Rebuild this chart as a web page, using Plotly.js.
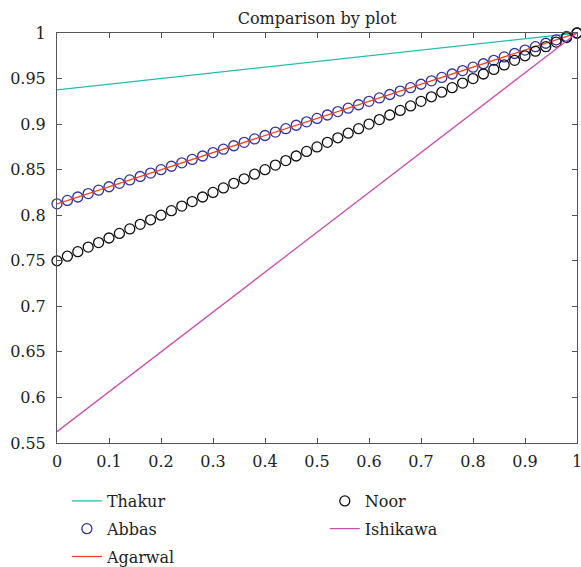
<!DOCTYPE html>
<html>
<head>
<meta charset="utf-8">
<script src="https://cdn.plot.ly/plotly-3.0.1.min.js"></script>
<style>html,body{margin:0;padding:0;background:#fff;}#chart{width:581px;height:567px;}</style>
</head>
<body>
<div id="chart"></div>
<script>
// Data
const lineX = [0, 1];
const thakurY = [0.9375, 1];
const agarwalY = [0.8125, 1];
const ishikawaY = [0.5625, 1];

const markerX = [0, 0.02, 0.04, 0.06, 0.08, 0.1, 0.12, 0.14, 0.16, 0.18,
  0.2, 0.22, 0.24, 0.26, 0.28, 0.3, 0.32, 0.34, 0.36, 0.38,
  0.4, 0.42, 0.44, 0.46, 0.48, 0.5, 0.52, 0.54, 0.56, 0.58,
  0.6, 0.62, 0.64, 0.66, 0.68, 0.7, 0.72, 0.74, 0.76, 0.78,
  0.8, 0.82, 0.84, 0.86, 0.88, 0.9, 0.92, 0.94, 0.96, 0.98, 1];
const abbasY = [0.8125, 0.81625, 0.82, 0.82375, 0.8275, 0.83125, 0.835, 0.83875, 0.8425, 0.84625,
  0.85, 0.85375, 0.8575, 0.86125, 0.865, 0.86875, 0.8725, 0.87625, 0.88, 0.88375,
  0.8875, 0.89125, 0.895, 0.89875, 0.9025, 0.90625, 0.91, 0.91375, 0.9175, 0.92125,
  0.925, 0.92875, 0.9325, 0.93625, 0.94, 0.94375, 0.9475, 0.95125, 0.955, 0.95875,
  0.9625, 0.96625, 0.97, 0.97375, 0.9775, 0.98125, 0.985, 0.98875, 0.9925, 0.99625, 1];
const noorY = [0.75, 0.755, 0.76, 0.765, 0.77, 0.775, 0.78, 0.785, 0.79, 0.795,
  0.8, 0.805, 0.81, 0.815, 0.82, 0.825, 0.83, 0.835, 0.84, 0.845,
  0.85, 0.855, 0.86, 0.865, 0.87, 0.875, 0.88, 0.885, 0.89, 0.895,
  0.9, 0.905, 0.91, 0.915, 0.92, 0.925, 0.93, 0.935, 0.94, 0.945,
  0.95, 0.955, 0.96, 0.965, 0.97, 0.975, 0.98, 0.985, 0.99, 0.995, 1];

const xTicks = [0, 0.1, 0.2, 0.3, 0.4, 0.5, 0.6, 0.7, 0.8, 0.9, 1];
const xTickText = ['0', '0.1', '0.2', '0.3', '0.4', '0.5', '0.6', '0.7', '0.8', '0.9', '1'];
const yTicks = [0.55, 0.6, 0.65, 0.7, 0.75, 0.8, 0.85, 0.9, 0.95, 1];
const yTickText = ['0.55', '0.6', '0.65', '0.7', '0.75', '0.8', '0.85', '0.9', '0.95', '1'];

const FONT = 'DejaVu Serif';
const FS = 16;

const traces = [
  {x: lineX, y: thakurY, name: 'Thakur', mode: 'lines', line: {color: '#1fbfb4', width: 1.3}, legend: 'legend', legendgroup: 'a'},
  {x: markerX, y: abbasY, name: 'Abbas', mode: 'markers', marker: {symbol: 'circle-open', size: 10, color: '#33339f', line: {width: 1.3}}, legend: 'legend', legendgroup: 'b', cliponaxis: false},
  {x: lineX, y: agarwalY, name: 'Agarwal', mode: 'lines', line: {color: '#f2441f', width: 1.3}, legend: 'legend', legendgroup: 'c'},
  {x: markerX, y: noorY, name: 'Noor', mode: 'markers', marker: {symbol: 'circle-open', size: 10, color: '#111111', line: {width: 1.3}}, legend: 'legend2', legendgroup: 'd', cliponaxis: false},
  {x: lineX, y: ishikawaY, name: 'Ishikawa', mode: 'lines', line: {color: '#c94fae', width: 1.3}, legend: 'legend2', legendgroup: 'e'}
];

const axisCommon = {
  showgrid: false, zeroline: false, showline: true, linecolor: '#555', linewidth: 1,
  mirror: 'ticks', ticks: 'inside', ticklen: 5, tickcolor: '#555', tickwidth: 1,
  tickfont: {family: FONT, size: FS, color: '#222'}, ticklabeloverflow: 'allow', automargin: false
};

const legendCommon = {
  orientation: 'v', xanchor: 'left', yanchor: 'top', yref: 'container', xref: 'paper',
  font: {family: FONT, size: FS, color: '#222'}, bgcolor: 'rgba(0,0,0,0)',
  traceorder: 'grouped', tracegroupgap: 4
};

const layout = {
  width: 581, height: 567,
  margin: {l: 57, r: 4, t: 33, b: 124},
  paper_bgcolor: '#fff', plot_bgcolor: '#fff',
  font: {family: FONT},
  title: {text: 'Comparison by plot', font: {family: FONT, size: FS, color: '#222'},
    x: 0.5, xref: 'paper', xanchor: 'center', y: 1, yref: 'paper', yanchor: 'bottom', pad: {b: 9}},
  xaxis: Object.assign({}, axisCommon, {range: [0, 1], tickvals: xTicks, ticktext: xTickText, ticklabelstandoff: 4}),
  yaxis: Object.assign({}, axisCommon, {range: [0.55, 1], tickvals: yTicks, ticktext: yTickText, ticklabelstandoff: 7}),
  showlegend: true,
  legend: Object.assign({}, legendCommon, {x: 0.019, y: 0.1464}),
  legend2: Object.assign({}, legendCommon, {x: 0.515, y: 0.1464})
};

Plotly.newPlot('chart', traces, layout, {displayModeBar: false, staticPlot: true});
</script>
</body>
</html>
